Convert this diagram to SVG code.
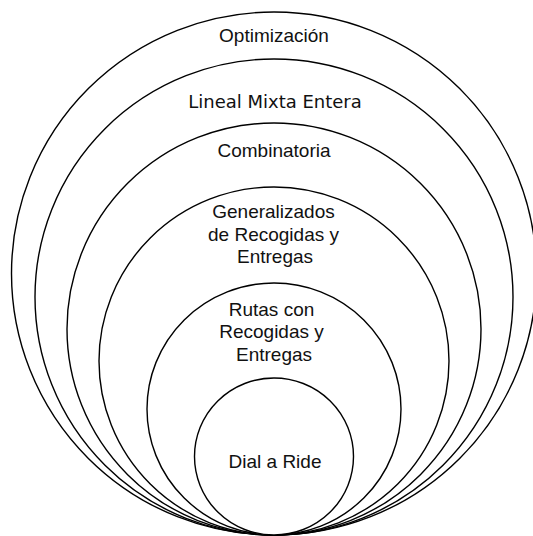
<svg xmlns="http://www.w3.org/2000/svg" width="533" height="536" viewBox="0 0 533 536">
<style>
.c{fill:#fff;stroke:#000;stroke-width:1.4}
.t{font-family:"Liberation Sans",Arial,Helvetica,sans-serif;font-size:19px;fill:#111;text-anchor:middle}
.v{font-family:"DejaVu Sans",Verdana,sans-serif;font-size:18px;fill:#111;text-anchor:middle}
</style>
<rect width="533" height="536" fill="#fff"/>
<g id="optimizacion">
<ellipse class="c" cx="274" cy="273.5" rx="262.5" ry="261.5"/>
<text class="t" x="274" y="41.5">Optimización</text>
</g>
<g id="lineal-mixta-entera">
<ellipse class="c" cx="274" cy="297" rx="239" ry="238"/>
<text class="v" x="275" y="108">Lineal Mixta Entera</text>
</g>
<g id="combinatoria">
<ellipse class="c" cx="274" cy="329" rx="207" ry="206"/>
<text class="t" x="274" y="156.5">Combinatoria</text>
</g>
<g id="generalizados">
<ellipse class="c" cx="274" cy="361" rx="175" ry="174"/>
<text class="t" x="273.5" y="217.5">Generalizados</text>
<text class="t" x="273.5" y="240.5">de Recogidas y</text>
<text class="t" x="275" y="263">Entregas</text>
</g>
<g id="rutas">
<ellipse class="c" cx="274" cy="409" rx="127" ry="126"/>
<text class="t" x="271.5" y="315.5">Rutas con</text>
<text class="t" x="271.5" y="338">Recogidas y</text>
<text class="t" x="274" y="360.5">Entregas</text>
</g>
<g id="dial-a-ride">
<ellipse class="c" cx="274" cy="456.5" rx="79.5" ry="78.5"/>
<text class="t" x="275" y="468">Dial a Ride</text>
</g>
</svg>
